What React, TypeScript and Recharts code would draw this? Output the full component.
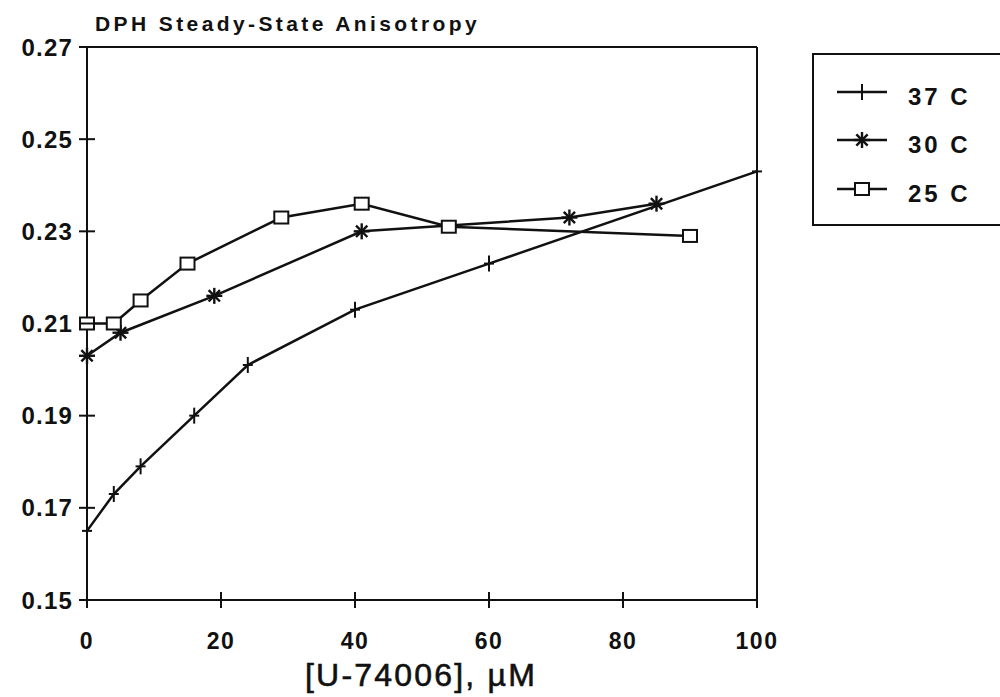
import React from 'react';
import { LineChart, Line, XAxis, YAxis, ReferenceLine, Legend } from 'recharts';

const x37 = [0, 4, 8, 16, 24, 40, 60, 100];
const y37 = [0.165, 0.173, 0.179, 0.19, 0.201, 0.213, 0.223, 0.243];
const x30 = [0, 5, 19, 41, 72, 85];
const y30 = [0.203, 0.208, 0.216, 0.23, 0.233, 0.236];
const x25 = [0, 4, 8, 15, 29, 41, 54, 90];
const y25 = [0.21, 0.21, 0.215, 0.223, 0.233, 0.236, 0.231, 0.229];

const xTicks = [0, 20, 40, 60, 80, 100];
const yTicks = [0.15, 0.17, 0.19, 0.21, 0.23, 0.25, 0.27];
const seriesNames = ['37 C', '30 C', '25 C'];
const titleText = 'DPH Steady-State Anisotropy';
const xLabel = '[U-74006], \u00b5M';

const zip = (xs: number[], ys: number[]) => xs.map((x, i) => ({ x, y: ys[i] }));
const d37 = zip(x37, y37);
const d30 = zip(x30, y30);
const d25 = zip(x25, y25);

const FONT = '"Liberation Sans", Arial, Helvetica, sans-serif';
const INK = '#111';

const PlusMark = ({ cx, cy }: any) => (
  <g stroke={INK} strokeWidth={2}>
    <line x1={cx} y1={cy - 8} x2={cx} y2={cy + 8} />
    <line x1={cx - 5} y1={cy} x2={cx + 5} y2={cy} />
  </g>
);

const StarMark = ({ cx, cy }: any) => {
  const r = 8;
  const d = r * 0.7071;
  return (
    <g stroke={INK} strokeWidth={2.4}>
      <line x1={cx} y1={cy - r} x2={cx} y2={cy + r} />
      <line x1={cx - r} y1={cy} x2={cx + r} y2={cy} />
      <line x1={cx - d} y1={cy - d} x2={cx + d} y2={cy + d} />
      <line x1={cx - d} y1={cy + d} x2={cx + d} y2={cy - d} />
    </g>
  );
};

const SquareMark = ({ cx, cy }: any) => (
  <rect x={cx - 7} y={cy - 6} width={14} height={12} fill="#fff" stroke={INK} strokeWidth={2} />
);

const YTick = ({ x, y, payload }: any) => (
  <g>
    <line x1={x - 8} y1={y} x2={x + 8} y2={y} stroke={INK} strokeWidth={2} />
    <text
      x={x - 14}
      y={y}
      dy="0.36em"
      textAnchor="end"
      fontFamily={FONT}
      fontWeight="bold"
      fontSize={24}
      letterSpacing={1.2}
      fill={INK}
    >
      {Number(payload.value).toFixed(2)}
    </text>
  </g>
);

const XTick = ({ x, y, payload }: any) => (
  <g>
    <line x1={x} y1={y - 8} x2={x} y2={y + 8} stroke={INK} strokeWidth={2} />
    <text
      x={x}
      y={y + 49}
      textAnchor="middle"
      fontFamily={FONT}
      fontWeight="bold"
      fontSize={23}
      letterSpacing={1.5}
      fill={INK}
    >
      {payload.value}
    </text>
  </g>
);

const markers = [PlusMark, StarMark, SquareMark];

const LegendBox = () => {
  const rows = [92, 140, 189];
  const baselines = [105, 153, 202];
  return (
    <svg width={200} height={175} style={{ display: 'block' }}>
      <rect x={1} y={1} width={210} height={171} fill="#fff" stroke={INK} strokeWidth={2} />
      {seriesNames.map((name, i) => {
        const M = markers[i];
        const ly = rows[i] - 53;
        return (
          <g key={name}>
            <line x1={25} y1={ly} x2={75} y2={ly} stroke={INK} strokeWidth={2.5} />
            <M cx={50} cy={ly} />
            <text
              x={96}
              y={baselines[i] - 53}
              fontFamily={FONT}
              fontWeight="bold"
              fontSize={24}
              letterSpacing={3}
              fill={INK}
            >
              {name}
            </text>
          </g>
        );
      })}
    </svg>
  );
};

export default function App() {
  return (
    <div style={{ position: 'absolute', left: 0, top: 0, width: 1000, height: 697, background: '#fff' }}>
      <LineChart width={1000} height={697} margin={{ top: 47, right: 243, bottom: 0, left: 0 }}>
        <XAxis
          dataKey="x"
          type="number"
          domain={[0, 100]}
          ticks={xTicks}
          interval={0}
          height={97}
          tickSize={0}
          tickMargin={0}
          tickLine={false}
          axisLine={{ stroke: INK, strokeWidth: 2 }}
          tick={<XTick />}
          allowDuplicatedCategory={false}
        />
        <YAxis
          type="number"
          domain={[0.15, 0.27]}
          ticks={yTicks}
          interval={0}
          width={87}
          tickSize={0}
          tickMargin={0}
          tickLine={false}
          axisLine={{ stroke: INK, strokeWidth: 2 }}
          tick={<YTick />}
        />
        <ReferenceLine y={0.27} stroke={INK} strokeWidth={2} />
        <ReferenceLine x={100} stroke={INK} strokeWidth={2} />
        <Line
          data={d37}
          dataKey="y"
          name={seriesNames[0]}
          stroke={INK}
          strokeWidth={2.5}
          dot={<PlusMark />}
          isAnimationActive={false}
        />
        <Line
          data={d30}
          dataKey="y"
          name={seriesNames[1]}
          stroke={INK}
          strokeWidth={2.5}
          dot={<StarMark />}
          isAnimationActive={false}
        />
        <Line
          data={d25}
          dataKey="y"
          name={seriesNames[2]}
          stroke={INK}
          strokeWidth={2.5}
          dot={<SquareMark />}
          isAnimationActive={false}
        />
        <Legend
          layout="vertical"
          align="center"
          verticalAlign="middle"
          content={<LegendBox />}
          wrapperStyle={{ left: 812, top: 53, width: 200, height: 175 }}
        />
        <text x={95} y={31} fontFamily={FONT} fontWeight="bold" fontSize={21} letterSpacing={3.4} fill={INK}>
          {titleText}
        </text>
        <text x={421} y={686} textAnchor="middle" fontFamily={FONT} fontSize={32} letterSpacing={2.2} fill={INK} stroke={INK} strokeWidth={0.6}>
          {xLabel}
        </text>
      </LineChart>
    </div>
  );
}
